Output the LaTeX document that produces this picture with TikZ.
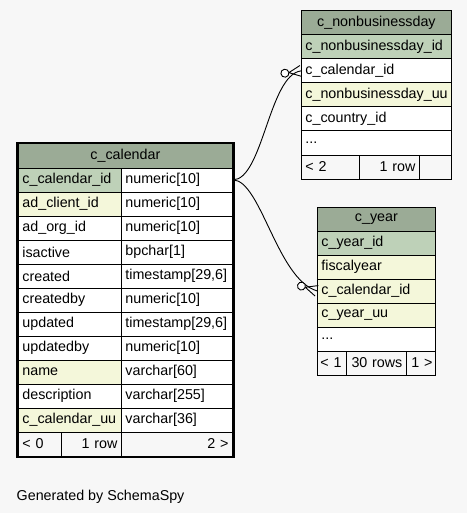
\documentclass[tikz,border=0pt]{standalone}
\usepackage{fontspec}
\setmainfont{Liberation Sans}
\usepackage{tikz}
\usetikzlibrary{arrows.meta, fit, positioning, decorations.markings}
\definecolor{Cabecera}{HTML}{9BAB96}
\definecolor{Clave}{HTML}{BED1B8}
\definecolor{Indice}{HTML}{F4F7DA}
\definecolor{Fondo}{HTML}{F7F7F7}

\begin{document}
\begin{tikzpicture}[
  x=1pt, y=-1pt,
  celda/.style={
    rectangle, draw=black, line width=0.8pt, anchor=north west,
    minimum height=24pt, inner xsep=4pt, inner ysep=0pt,
    font=\fontsize{14.3}{16}\selectfont, fill=white
  },
  campo/.style={celda, text width=#1, align=left},
  pk/.style={campo=#1, fill=Clave},
  idx/.style={campo=#1, fill=Indice},
  cab/.style={celda, text width=#1, align=center, fill=Cabecera},
  pie/.style={celda, text width=#1, fill=Fondo},
  marco/.style={draw=black, line width=2.5pt, inner sep=0.5pt},
  % pata de gallo con circulo (cero o muchos)
  rel/.style={line width=0.9pt, postaction={decorate},
    decoration={markings, mark=at position 0.998 with {
      \draw[line width=0.9pt] (-12pt,0pt) -- (0pt,5.5pt)
                              (-12pt,0pt) -- (0pt,-5.5pt);
      \draw[line width=0.9pt, fill=white] (-16pt,0pt) circle (4pt);
    }}}
]

\path[use as bounding box, fill=Fondo] (0,0) rectangle (467,513);

%% ─────────────────────────────────────────────────────────
%% Tabla central: c_calendar   (col. 18 y 121)
%% ─────────────────────────────────────────────────────────
\node[cab=206pt]   (calH)   at (18,143.5)  {c\_calendar};

\node[pk=95pt]     (calN1)  at (18,167.5)  {c\_calendar\_id};
\node[campo=103pt] (calT1)  at (121,167.5) {numeric[10]};
\node[idx=95pt]    (calN2)  at (18,191.5)  {ad\_client\_id};
\node[campo=103pt] (calT2)  at (121,191.5) {numeric[10]};
\node[campo=95pt]  (calN3)  at (18,215.5)  {ad\_org\_id};
\node[campo=103pt] (calT3)  at (121,215.5) {numeric[10]};
\node[campo=95pt]  (calN4)  at (18,239.5)  {isactive};
\node[campo=103pt] (calT4)  at (121,239.5) {bpchar[1]};
\node[campo=95pt]  (calN5)  at (18,263.5)  {created};
\node[campo=103pt] (calT5)  at (121,263.5) {timestamp[29,6]};
\node[campo=95pt]  (calN6)  at (18,287.5)  {createdby};
\node[campo=103pt] (calT6)  at (121,287.5) {numeric[10]};
\node[campo=95pt]  (calN7)  at (18,311.5)  {updated};
\node[campo=103pt] (calT7)  at (121,311.5) {timestamp[29,6]};
\node[campo=95pt]  (calN8)  at (18,335.5)  {updatedby};
\node[campo=103pt] (calT8)  at (121,335.5) {numeric[10]};
\node[idx=95pt]    (calN9)  at (18,359.5)  {name};
\node[campo=103pt] (calT9)  at (121,359.5) {varchar[60]};
\node[campo=95pt]  (calN10) at (18,383.5)  {description};
\node[campo=103pt] (calT10) at (121,383.5) {varchar[255]};
\node[idx=95pt]    (calN11) at (18,407.5)  {c\_calendar\_uu};
\node[campo=103pt] (calT11) at (121,407.5) {varchar[36]};

\node[pie=35pt]               (calP1) at (18,431.5)  {<~0};
\node[pie=52pt, align=right]  (calP2) at (61,431.5)  {1~row};
\node[pie=103pt, align=right] (calP3) at (121,431.5) {2~>};

% borde grueso de la tabla central
\node[marco, fit=(calH)(calP1)(calP3)] (cal) {};

%% ─────────────────────────────────────────────────────────
%% Tabla hija: c_nonbusinessday
%% ─────────────────────────────────────────────────────────
\node[cab=142pt]   (nbH)  at (301,10.5)  {c\_nonbusinessday};
\node[pk=142pt]    (nbN1) at (301,34.5)  {c\_nonbusinessday\_id};
\node[campo=142pt] (nbN2) at (301,58.5)  {c\_calendar\_id};
\node[idx=142pt]   (nbN3) at (301,82.5)  {c\_nonbusinessday\_uu};
\node[campo=142pt] (nbN4) at (301,106.5) {c\_country\_id};
\node[campo=142pt] (nbN5) at (301,130.5) {...};

\node[pie=50pt]              (nbP1) at (301,154.5) {<~2};
\node[pie=52pt, align=right] (nbP2) at (359,154.5) {1~row};
\node[pie=24pt]              (nbP3) at (419,154.5) {};

%% ─────────────────────────────────────────────────────────
%% Tabla hija: c_year
%% ─────────────────────────────────────────────────────────
\node[cab=110pt]   (yrH)  at (317,206.5) {c\_year};
\node[pk=110pt]    (yrN1) at (317,230.5) {c\_year\_id};
\node[idx=110pt]   (yrN2) at (317,254.5) {fiscalyear};
\node[idx=110pt]   (yrN3) at (317,278.5) {c\_calendar\_id};
\node[idx=110pt]   (yrN4) at (317,302.5) {c\_year\_uu};
\node[campo=110pt] (yrN5) at (317,326.5) {...};

\node[pie=23pt, inner xsep=3pt]              (yrP1) at (317,350.5) {<~1};
\node[pie=52pt, align=right]                 (yrP2) at (346,350.5) {30~rows};
\node[pie=23pt, inner xsep=3pt, align=right] (yrP3) at (406,350.5) {1~>};

%% relaciones (clave foranea -> c_calendar_id)
\draw[rel] (calT1.east) .. controls +(30,0) and +(-32,4) .. (nbN2.west);
\draw[rel] (calT1.east) .. controls +(28,0) and +(-40,-12) .. (yrN3.west);

%% pie de pagina
\node[anchor=base west, inner sep=0pt, font=\fontsize{14.3}{16}\selectfont]
  (gen) at (16.5,500) {Generated by SchemaSpy};

\end{tikzpicture}
\end{document}
